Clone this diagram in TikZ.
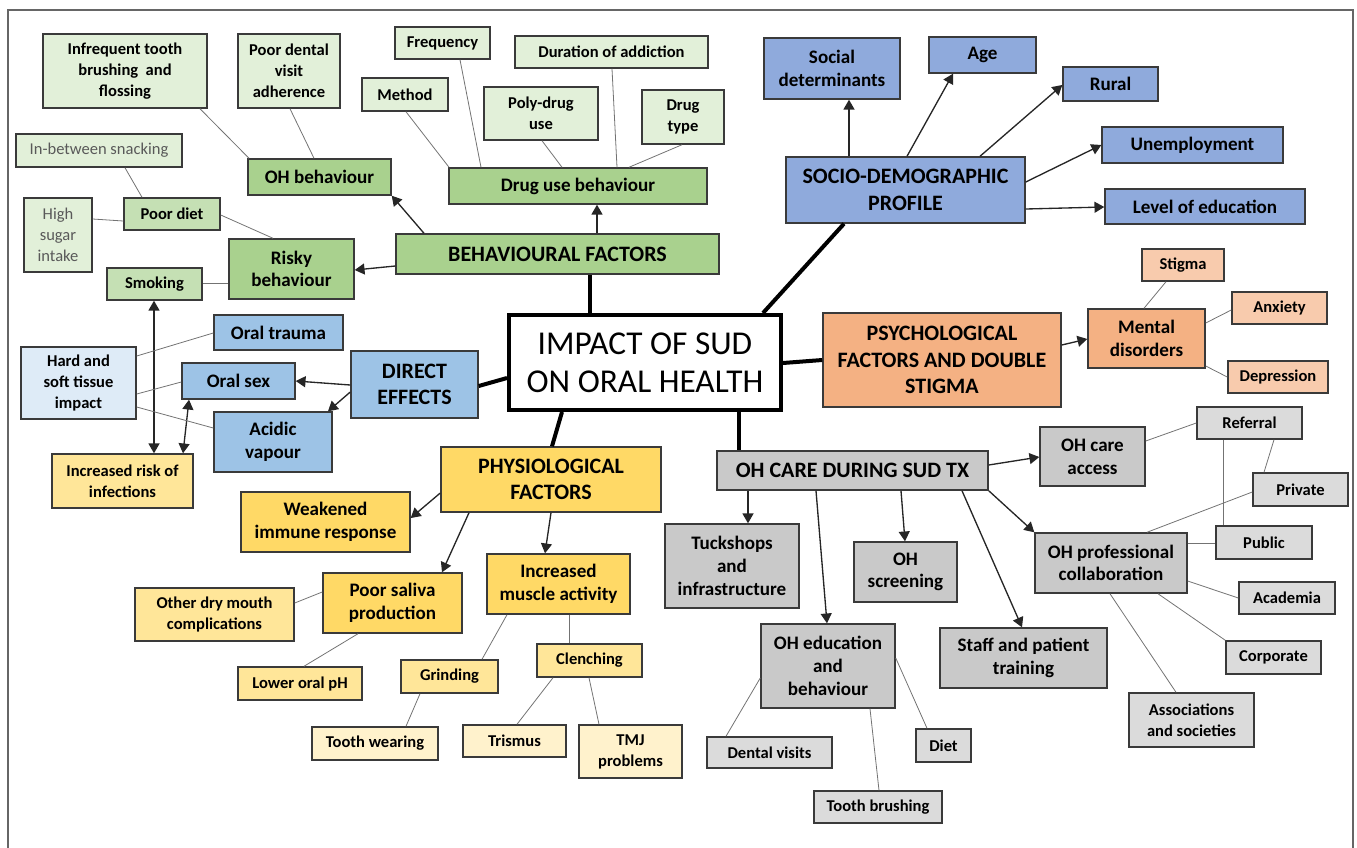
\documentclass[tikz,border=0pt]{standalone}
\usepackage{fontspec}
\setmainfont{Carlito}
\usetikzlibrary{arrows}
\definecolor{grnD}{HTML}{A9D18E}
\definecolor{grnM}{HTML}{C5E0B4}
\definecolor{grnL}{HTML}{E2F0D9}
\definecolor{bluS}{HTML}{8FAADC}
\definecolor{bluD}{HTML}{9DC3E6}
\definecolor{bluL}{HTML}{DEEBF7}
\definecolor{orgD}{HTML}{F4B183}
\definecolor{orgL}{HTML}{F8CBAD}
\definecolor{ylwD}{HTML}{FFD966}
\definecolor{ylwM}{HTML}{FFE699}
\definecolor{ylwL}{HTML}{FFF2CC}
\definecolor{gryD}{HTML}{C9C9C9}
\definecolor{gryL}{HTML}{DBDBDB}
\definecolor{edgec}{HTML}{3A3A3A}
\tikzset{%
  box/.style={draw=edgec, line width=1.1pt, inner sep=0pt, align=center},
  sz/.style 2 args={minimum width=#1*0.75pt, minimum height=#2*0.75pt},
  txtS/.style={font=\fontsize{12.4}{15.7}\selectfont\bfseries},
  txtR/.style={font=\fontsize{12.4}{15.7}\selectfont, text=black!65},
  txtM/.style={font=\fontsize{14.3}{17}\selectfont\bfseries},
  txtL/.style={font=\fontsize{16.5}{20}\selectfont\bfseries},
  hub/.style={line width=3pt, black},
  arr/.style={->, >=triangle 60, line width=1pt, black!85},
  arrb/.style={<->, >=triangle 60, line width=1pt, black!85},
  twig/.style={line width=0.6pt, black!55}
}
\begin{document}
\begin{tikzpicture}[x=0.75pt, y=-0.75pt]
\useasboundingbox (0,0) rectangle (1357,847);
\draw [black!60, line width=0.8pt] (8,860) |- (1353,10) -- (1353,860);

% centre
\node [draw=black, line width=3pt, fill=white, inner sep=0pt, align=center, sz={272}{95},
  font=\fontsize{25}{28.5}\selectfont] (core) at (645,362.5) {IMPACT OF SUD\\ON ORAL HEALTH};

% behavioural factors
\node [box, fill=grnD, txtL, sz={323}{40}] (beh) at (557.5,254) {BEHAVIOURAL FACTORS};
\node [box, fill=grnD, txtM, sz={143}{36}] (ohbeh) at (319.5,177) {OH behaviour};
\node [box, fill=grnD, txtM, sz={258}{36}] (druguse) at (578,186) {Drug use behaviour};
\node [box, fill=grnD, txtM, sz={125}{60}] (risky) at (291.5,269) {Risky\\behaviour};
\node [box, fill=grnL, txtS, sz={164}{74}] (infreq) at (125,71) {Infrequent tooth\\brushing\ \ and\\flossing};
\node [box, fill=grnL, txtS, sz={102}{74}] (pdent) at (289,71) {Poor dental\\visit\\adherence};
\node [box, fill=grnL, txtS, sz={95}{32}] (freq) at (442.5,43) {Frequency};
\node [box, fill=grnL, txtS, sz={193}{32}] (durat) at (611.5,52) {Duration of addiction};
\node [box, fill=grnL, txtS, sz={86}{33}] (method) at (405,94.5) {Method};
\node [box, fill=grnL, txtS, sz={114}{53}] (poly) at (541,113.5) {Poly-drug\\use};
\node [box, fill=grnL, txtS, sz={82}{54}] (dtype) at (683,117) {Drug\\type};
\node [box, fill=grnL, txtR, sz={166}{33}] (snack) at (99,150.5) {In-between snacking};
\node [box, fill=grnM, txtS, sz={96}{32}] (diet) at (172,214) {Poor diet};
\node [box, fill=grnL, txtR, sz={68}{74}] (sugar) at (58,235) {High\\sugar\\intake};
\node [box, fill=grnM, txtS, sz={95}{32}] (smoke) at (154.5,284) {Smoking};

% socio-demographic profile
\node [box, fill=bluS, txtL, sz={239}{66}] (socio) at (905.5,190) {SOCIO-DEMOGRAPHIC\\PROFILE};
\node [box, fill=bluS, txtM, sz={136}{61}] (socdet) at (832,68.5) {Social\\determinants};
\node [box, fill=bluS, txtM, sz={107}{36}] (age) at (982.5,55) {Age};
\node [box, fill=bluS, txtM, sz={95}{34}] (rural) at (1110.5,84) {Rural};
\node [box, fill=bluS, txtM, sz={181}{36}] (unemp) at (1192.5,145) {Unemployment};
\node [box, fill=bluS, txtM, sz={200}{35}] (educ) at (1205,206.5) {Level of education};

% psychological factors
\node [box, fill=orgD, txtL, sz={238}{94}] (psych) at (942,360) {PSYCHOLOGICAL\\FACTORS AND DOUBLE\\STIGMA};
\node [box, fill=orgD, txtM, sz={117}{59}] (mental) at (1146.5,338.5) {Mental\\disorders};
\node [box, fill=orgL, txtS, sz={82}{32}] (stigma) at (1183,265) {Stigma};
\node [box, fill=orgL, txtS, sz={95}{32}] (anx) at (1279.5,308) {Anxiety};
\node [box, fill=orgL, txtS, sz={100}{32}] (depr) at (1278,377) {Depression};

% direct effects
\node [box, fill=bluD, txtL, sz={127}{67}] (direct) at (414.5,384.5) {DIRECT\\EFFECTS};
\node [box, fill=bluD, txtM, sz={129}{35}] (trauma) at (278.5,332.5) {Oral trauma};
\node [box, fill=bluD, txtM, sz={113}{36}] (oralsex) at (238.5,381) {Oral sex};
\node [box, fill=bluD, txtM, sz={118}{60}] (acidic) at (273,442) {Acidic\\vapour};
\node [box, fill=bluL, txtS, sz={115}{72}] (hard) at (78.5,383) {Hard and\\soft tissue\\impact};
\node [box, fill=ylwM, txtS, sz={141}{54}] (infect) at (122.5,481) {Increased risk of\\infections};

% physiological factors
\node [box, fill=ylwD, txtL, sz={220}{65}] (physio) at (551,479.5) {PHYSIOLOGICAL\\FACTORS};
\node [box, fill=ylwD, txtM, sz={169}{60}] (weak) at (325.5,522) {Weakened\\immune response};
\node [box, fill=ylwD, txtM, sz={139}{60}] (saliva) at (392.5,603) {Poor saliva\\production};
\node [box, fill=ylwD, txtM, sz={143}{60}] (muscle) at (558.5,584) {Increased\\muscle activity};
\node [box, fill=ylwM, txtS, sz={159}{53}] (drymouth) at (214.5,614.5) {Other dry mouth\\complications};
\node [box, fill=ylwM, txtS, sz={124}{33}] (lowph) at (300,683.5) {Lower oral pH};
\node [box, fill=ylwM, txtS, sz={97}{33}] (grind) at (449.5,676.5) {Grinding};
\node [box, fill=ylwM, txtS, sz={105}{33}] (clench) at (589.5,660.5) {Clenching};
\node [box, fill=ylwL, txtS, sz={126}{33}] (wear) at (375,743.5) {Tooth wearing};
\node [box, fill=ylwL, txtS, sz={103}{32}] (trismus) at (514.5,741) {Trismus};
\node [box, fill=ylwL, txtS, sz={103}{53}] (tmj) at (630.5,751.5) {TMJ\\problems};

% OH care during SUD treatment
\node [box, fill=gryD, txtL, sz={271}{39}] (ohcare) at (852.5,470.5) {OH CARE DURING SUD TX};
\node [box, fill=gryD, txtM, sz={105}{59}] (access) at (1092.5,456.5) {OH care\\access};
\node [box, fill=gryD, txtM, sz={152}{60}] (collab) at (1111,563) {OH professional\\collaboration};
\node [box, fill=gryD, txtM, sz={134}{84}] (tuck) at (732,566) {Tuckshops\\and\\infrastructure};
\node [box, fill=gryD, txtM, sz={103}{60}] (screen) at (905.5,572) {OH\\screening};
\node [box, fill=gryD, txtM, sz={134}{84}] (ohedu) at (828,666) {OH education\\and\\behaviour};
\node [box, fill=gryD, txtM, sz={167}{60}] (staff) at (1023.5,658) {Staff and patient\\training};
\node [box, fill=gryL, txtS, sz={105}{32}] (referral) at (1249.5,423) {Referral};
\node [box, fill=gryL, txtS, sz={95}{33}] (private) at (1300.5,489.5) {Private};
\node [box, fill=gryL, txtS, sz={96}{33}] (public) at (1264,542.5) {Public};
\node [box, fill=gryL, txtS, sz={96}{32}] (academia) at (1287,598) {Academia};
\node [box, fill=gryL, txtS, sz={95}{33}] (corporate) at (1273.5,657.5) {Corporate};
\node [box, fill=gryL, txtS, sz={125}{54}] (assoc) at (1191.5,720) {Associations\\and societies};
\node [box, fill=gryL, txtS, sz={125}{31}] (dvisit) at (769.5,752.5) {Dental visits};
\node [box, fill=gryL, txtS, sz={55}{33}] (gdiet) at (943.5,745.5) {Diet};
\node [box, fill=gryL, txtS, sz={128}{32}] (brush) at (878,807) {Tooth brushing};

% spokes from the centre
\draw [hub] (core.north -| 590,0) -- (beh.south -| 590,0);
\draw [hub] (core.north -| 763,0) -- (socio.south -| 844,0);
\draw [hub] (core.east |- 0,363) -- (psych.west |- 0,360);
\draw [hub] (core.west |- 0,378) -- (direct.east |- 0,386);
\draw [hub] (core.south -| 562,0) -- (physio.north -| 552,0);
\draw [hub] (core.south -| 739,0) -- (ohcare.north -| 739,0);

% arrows
\draw [arr] (beh.north -| 424,0) -- (ohbeh.south east);
\draw [arr] (beh.west |- 0,266) -- (risky.east |- 0,270);
\draw [arr] (beh.north -| 597,0) -- (druguse.south -| 597,0);
\draw [arr] (socio.north -| 849,0) -- (socdet.south -| 849,0);
\draw [arr] (socio.north -| 907,0) -- (age.south -| 953,0);
\draw [arr] (socio.north -| 980,0) -- (rural.west |- 0,85);
\draw [arr] (socio.east |- 0,182) -- (unemp.west |- 0,145);
\draw [arr] (socio.east |- 0,209) -- (educ.west |- 0,207);
\draw [arr] (psych.east |- 0,345) -- (mental.west |- 0,339);
\draw [arr] (direct.west |- 0,385) -- (oralsex.east |- 0,381);
\draw [arr] (direct.west |- 0,392) -- (acidic.north -| 328,0);
\draw [arr] (physio.west |- 0,493) -- (weak.east |- 0,518);
\draw [arr] (physio.south -| 469,0) -- (saliva.north -| 442,0);
\draw [arr] (physio.south -| 551,0) -- (muscle.north -| 545,0);
\draw [arr] (ohcare.east |- 0,465) -- (access.west |- 0,457);
\draw [arr] (ohcare.south -| 748,0) -- (tuck.north -| 748,0);
\draw [arr] (ohcare.south -| 816,0) -- (ohedu.north -| 827,0);
\draw [arr] (ohcare.south -| 901,0) -- (screen.north -| 905,0);
\draw [arr] (ohcare.south -| 962,0) -- (staff.north -| 1022,0);
\draw [arr] (ohcare.south east) -- (collab.north west);
\draw [arrb] (smoke.south -| 154,0) -- (infect.north -| 154,0);
\draw [arrb] (oralsex.south -| 189,0) -- (infect.north -| 183,0);

% thin links
\draw [twig] (infreq.south -| 200,0) -- (ohbeh.north -| 249,0);
\draw [twig] (pdent.south -| 290,0) -- (ohbeh.north -| 314,0);
\draw [twig] (snack.south -| 125,0) -- (diet.north -| 142,0);
\draw [twig] (sugar.east |- 0,219) -- (diet.west |- 0,221);
\draw [twig] (diet.east |- 0,215) -- (risky.north -| 273,0);
\draw [twig] (smoke.east |- 0,283) -- (risky.west |- 0,283);
\draw [twig] (method.south -| 406,0) -- (druguse.north -| 449,0);
\draw [twig] (freq.south -| 460,0) -- (druguse.north -| 481,0);
\draw [twig] (poly.south -| 542,0) -- (druguse.north -| 562,0);
\draw [twig] (durat.south -| 612,0) -- (druguse.north -| 617,0);
\draw [twig] (dtype.south -| 682,0) -- (druguse.north -| 629,0);
\draw [twig] (hard.east |- 0,356) -- (trauma.west |- 0,333);
\draw [twig] (hard.east |- 0,394) -- (oralsex.west |- 0,382);
\draw [twig] (hard.east |- 0,407) -- (acidic.west |- 0,428);
\draw [twig] (saliva.west |- 0,592) -- (drymouth.east |- 0,603);
\draw [twig] (saliva.south -| 358,0) -- (lowph.north -| 304,0);
\draw [twig] (muscle.south -| 507,0) -- (grind.north -| 482,0);
\draw [twig] (muscle.south -| 569,0) -- (clench.north -| 569,0);
\draw [twig] (grind.south -| 420,0) -- (wear.north -| 406,0);
\draw [twig] (clench.south -| 553,0) -- (trismus.north -| 517,0);
\draw [twig] (clench.south -| 589,0) -- (tmj.north -| 599,0);
\draw [twig] (mental.north -| 1144,0) -- (stigma.south -| 1166,0);
\draw [twig] (mental.east |- 0,323) -- (anx.west |- 0,310);
\draw [twig] (mental.east |- 0,366) -- (depr.west |- 0,377);
\draw [twig] (access.east |- 0,441) -- (referral.west |- 0,423);
\draw [twig] (referral.south -| 1274,0) -- (private.north -| 1264,0);
\draw [twig] (referral.south -| 1223,0) -- (public.north -| 1223,0);
\draw [twig] (private.west |- 0,492) -- (collab.north -| 1147,0);
\draw [twig] (collab.east |- 0,543) -- (public.west |- 0,543);
\draw [twig] (collab.east |- 0,581) -- (academia.west |- 0,598);
\draw [twig] (collab.south -| 1158,0) -- (corporate.north west);
\draw [twig] (collab.south -| 1110,0) -- (assoc.north -| 1176,0);
\draw [twig] (ohedu.west |- 0,678) -- (dvisit.north -| 726,0);
\draw [twig] (ohedu.south -| 870,0) -- (brush.north -| 879,0);
\draw [twig] (ohedu.east |- 0,658) -- (gdiet.north -| 927,0);
\end{tikzpicture}
\end{document}
